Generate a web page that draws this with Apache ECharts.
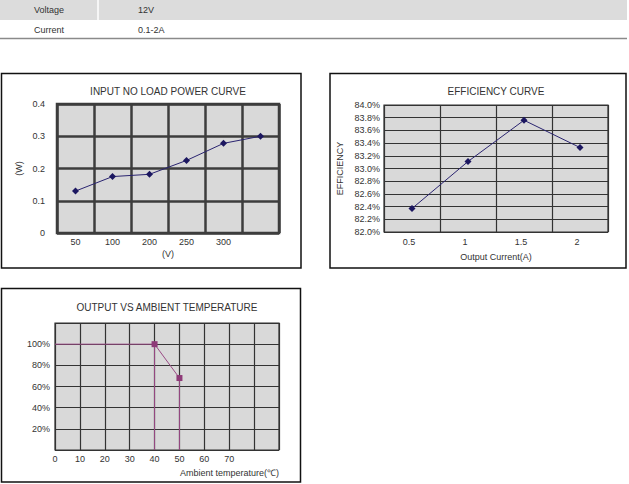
<!DOCTYPE html>
<html>
<head>
<meta charset="utf-8">
<script src="https://cdn.jsdelivr.net/npm/echarts@6/dist/echarts.min.js"></script>
<style>
html,body{margin:0;padding:0;background:#fff;}
#c{width:629px;height:484px;}
</style>
</head>
<body>
<div id="c"></div>
<script>
// ---- data ----
const tableLabels = ['Voltage', 'Current'];
const tableValues = ['12V', '0.1-2A'];

const powerTitle = 'INPUT NO LOAD POWER CURVE';
const powerVoltage = ['50', '100', '200', '250', '300', ''];
const powerValues = [0.13, 0.175, 0.182, 0.225, 0.278, 0.30];

const effTitle = 'EFFICIENCY CURVE';
const effCurrent = ['0.5', '1', '1.5', '2'];
const effValues = [82.37, 83.11, 83.76, 83.33];

const tempTitle = 'OUTPUT VS AMBIENT TEMPERATURE';
const tempX = [0, 40, 50];
const tempY = [100, 100, 68];
const tempDropX = [40, 50];

const FONT = 'Liberation Sans, Arial, sans-serif';
const chart = echarts.init(document.getElementById('c'), null, {renderer: 'svg'});

const graphics = [
  {type: 'rect', shape: {x: 0, y: 0, width: 627, height: 20}, style: {fill: '#dcdcdc'}, silent: true, z: -10},
  {type: 'line', shape: {x1: 98, y1: 0, x2: 98, y2: 20}, style: {stroke: '#fff', lineWidth: 1.5}, z: -9},
  {type: 'line', shape: {x1: 0, y1: 38.5, x2: 627, y2: 38.5}, style: {stroke: '#8a8a8a', lineWidth: 1.5}, z: -9},
  {type: 'rect', shape: {x: 1.5, y: 73.5, width: 299.5, height: 194.5}, style: {fill: 'none', stroke: '#111', lineWidth: 1.5}},
  {type: 'rect', shape: {x: 330, y: 73.5, width: 296, height: 194.5}, style: {fill: 'none', stroke: '#111', lineWidth: 1.5}},
  {type: 'rect', shape: {x: 1.5, y: 288.5, width: 299, height: 193.5}, style: {fill: 'none', stroke: '#111', lineWidth: 1.5}}
];
tableLabels.forEach((t, i) => {
  graphics.push({type: 'text', x: 34, y: 10 + i * 19.5, style: {text: t, fill: '#333', font: '9px ' + FONT, verticalAlign: 'middle'}});
  graphics.push({type: 'text', x: 138, y: 10 + i * 19.5, style: {text: tableValues[i], fill: '#333', font: '9px ' + FONT, verticalAlign: 'middle'}});
});
graphics.push({type: 'text', x: 279, y: 473, style: {text: 'Ambient temperature(℃)', fill: '#333', font: '9px ' + FONT, align: 'right', verticalAlign: 'middle'}});

const labelStyle = {color: '#333', fontSize: 9, fontFamily: FONT};
const titleStyle = {color: '#333', fontSize: 10, fontWeight: 'normal', fontFamily: FONT};

const option = {
  backgroundColor: '#fff',
  animation: false,
  graphic: graphics,
  title: [
    {text: powerTitle, left: 168, top: 86, textAlign: 'center', textStyle: titleStyle, padding: 0},
    {text: effTitle, left: 496, top: 86, textAlign: 'center', textStyle: titleStyle, padding: 0},
    {text: tempTitle, left: 167, top: 302, textAlign: 'center', textStyle: titleStyle, padding: 0}
  ],
  grid: [
    {left: 57, top: 104, width: 222, height: 129, show: true, backgroundColor: '#d9d9d9', borderColor: '#3d3d3d', borderWidth: 2.5, containLabel: false},
    {left: 384, top: 105, width: 224, height: 127, show: true, backgroundColor: '#d9d9d9', borderColor: '#333', borderWidth: 1.2, containLabel: false},
    {left: 55, top: 323, width: 224, height: 127, show: true, backgroundColor: '#d9d9d9', borderColor: '#333', borderWidth: 1.2, containLabel: false}
  ],
  xAxis: [
    {gridIndex: 0, type: 'category', data: powerVoltage, boundaryGap: true,
     axisLine: {show: false}, axisTick: {show: false},
     axisLabel: Object.assign({margin: 4, interval: 0}, labelStyle),
     splitLine: {show: true, interval: 0, lineStyle: {color: '#3d3d3d', width: 2.5}},
     name: '(V)', nameLocation: 'middle', nameGap: 16, nameTextStyle: labelStyle},
    {gridIndex: 1, type: 'category', data: effCurrent, boundaryGap: true,
     axisLine: {show: false}, axisTick: {show: false},
     axisLabel: Object.assign({margin: 5, interval: 0, padding: [0, 6, 0, 0]}, labelStyle),
     splitLine: {show: true, interval: 0, lineStyle: {color: '#333', width: 1.2}},
     name: 'Output Current(A)', nameLocation: 'middle', nameGap: 20, nameTextStyle: labelStyle},
    {gridIndex: 2, type: 'value', min: 0, max: 90, interval: 10,
     axisLine: {show: false}, axisTick: {show: false},
     axisLabel: Object.assign({margin: 4, showMaxLabel: true, formatter: v => (v <= 70 ? String(v) : '')}, labelStyle),
     splitLine: {show: true, lineStyle: {color: '#333', width: 1.2}}}
  ],
  yAxis: [
    {gridIndex: 0, type: 'value', min: 0, max: 0.4, interval: 0.1,
     axisLine: {show: false}, axisTick: {show: false},
     axisLabel: Object.assign({margin: 12, formatter: v => (v === 0 ? '0' : v.toFixed(1))}, labelStyle),
     splitLine: {show: true, lineStyle: {color: '#3d3d3d', width: 2.5}},
     name: '(W)', nameLocation: 'middle', nameGap: 34, nameTextStyle: labelStyle},
    {gridIndex: 1, type: 'value', min: 82, max: 84, interval: 0.2,
     axisLine: {show: false}, axisTick: {show: false},
     axisLabel: Object.assign({margin: 4, formatter: v => v.toFixed(1) + '%'}, labelStyle),
     splitLine: {show: true, lineStyle: {color: '#333', width: 1.2}},
     name: 'EFFICIENCY', nameLocation: 'middle', nameGap: 40, nameTextStyle: labelStyle},
    {gridIndex: 2, type: 'value', min: 0, max: 120, interval: 20,
     axisLine: {show: false}, axisTick: {show: false},
     axisLabel: Object.assign({margin: 5, formatter: v => (v >= 20 && v <= 100 ? v + '%' : '')}, labelStyle),
     splitLine: {show: true, lineStyle: {color: '#333', width: 1.2}}}
  ],
  series: [
    {type: 'line', xAxisIndex: 0, yAxisIndex: 0, data: powerValues,
     symbol: 'diamond', symbolSize: 7, lineStyle: {color: '#2a2470', width: 1},
     itemStyle: {color: '#1c1760'}},
    {type: 'line', xAxisIndex: 1, yAxisIndex: 1, data: effValues,
     symbol: 'diamond', symbolSize: 7, lineStyle: {color: '#2a2470', width: 1},
     itemStyle: {color: '#1c1760'}},
    {type: 'line', xAxisIndex: 2, yAxisIndex: 2,
     data: tempX.map((x, i) => (i === 0 ? {value: [x, tempY[i]], symbol: 'none'} : [x, tempY[i]])),
     symbol: 'rect', symbolSize: 6, lineStyle: {color: '#9a4a85', width: 1},
     itemStyle: {color: '#8e3a78'}, z: 5},
    ...tempDropX.map(x => ({
      type: 'line', xAxisIndex: 2, yAxisIndex: 2,
      data: [[x, tempY[tempX.indexOf(x)]], [x, 0]],
      symbol: 'none', lineStyle: {color: '#9a4a85', width: 1}, z: 4
    }))
  ]
};
chart.setOption(option);
</script>
</body>
</html>
